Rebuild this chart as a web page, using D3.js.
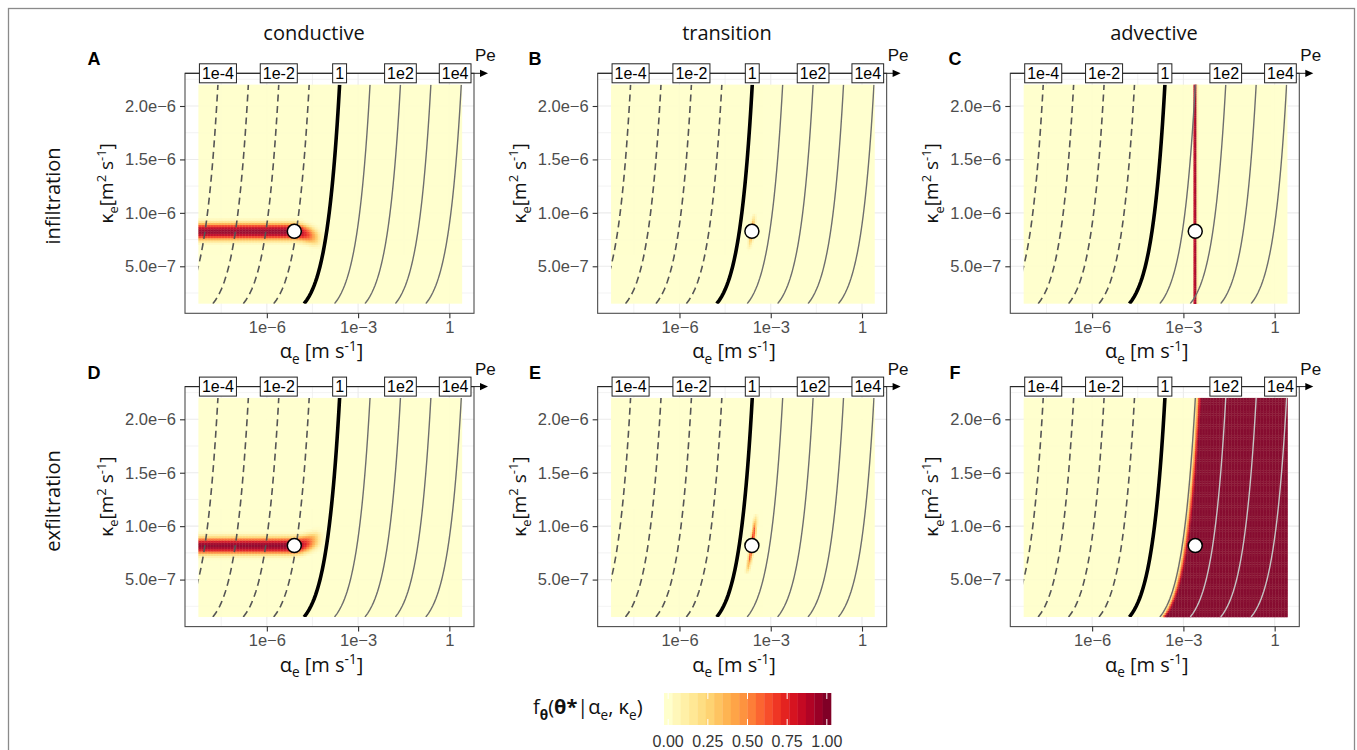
<!DOCTYPE html>
<html lang="en">
<head>
<meta charset="UTF-8" />
<title>Pe grid</title>
<script src="https://cdn.jsdelivr.net/npm/d3@7"></script>
<style>
  body { margin: 0; background: #fff; }
  text { font-family: "Liberation Sans", Arial, sans-serif; }
  .humanist { font-family: "Open Sans", "DejaVu Sans", sans-serif; }
</style>
</head>
<body>
<svg id="chart" width="1357" height="750"></svg>
<script>
const columns = ["conductive", "transition", "advective"];
const rows = ["infiltration", "exfiltration"];
const letters = [["A", "B", "C"], ["D", "E", "F"]];

const xTicks = [1e-6, 1e-3, 1];
const xTickLabels = ["1e\u22126", "1e\u22123", "1"];
const yTicks = [5e-7, 1e-6, 1.5e-6, 2e-6];
const yTickLabels = ["5.0e\u22127", "1.0e\u22126", "1.5e\u22126", "2.0e\u22126"];
const xMinor = [10 ** -7.5, 10 ** -4.5, 10 ** -1.5];
const yMinor = [2.5e-7, 7.5e-7, 1.25e-6, 1.75e-6, 2.25e-6];

const alphaLimits = [10 ** -8.69, 10 ** 0.81];
const kappaLimits = [6e-8, 2.306e-6];
const alphaGrid = [10 ** -8.25, 10 ** 0.42];
const kappaGrid = [1.5e-7, 2.2e-6];

const peValues = [1e-4, 1e-3, 1e-2, 1e-1, 1, 1e1, 1e2, 1e3, 1e4];
const peLabels = ["1e-4", "1e-2", "1", "1e2", "1e4"];
const peLabelValues = [1e-4, 1e-2, 1, 1e2, 1e4];
const depth = 10 ** -2.05; // Pe = alpha * depth / kappa

const trueAlpha = [8e-6, 2.4e-4, 2.45e-3];
const trueKappa = [8.27e-7, 8.18e-7];

// density profiles (kappa offsets in 1e-6, alpha offsets in decades)
const bandAcrossK = [-0.13, -0.11, -0.08, -0.06, -0.04, -0.02, 0, 0.02, 0.04, 0.06, 0.08, 0.11, 0.13];
const bandAcrossV = [0, 0.05, 0.25, 0.55, 0.8, 0.93, 0.98, 0.93, 0.8, 0.55, 0.25, 0.05, 0];
const bandTailA = [-0.2, 0, 0.25, 0.5, 0.7, 0.85, 1.0];
const bandTailV = [1, 1, 0.9, 0.65, 0.35, 0.12, 0];
const bandTailShift = [0, 0, 0.01, 0.03, 0.05, 0.06, 0.07];
const streakAcrossA = [-0.1, -0.05, 0, 0.05, 0.1];
const streakAcrossV = [0, 0.4, 1, 0.4, 0];
const streakAlongK = [
  [-0.18, -0.13, -0.08, -0.04, 0, 0.04, 0.08, 0.12, 0.17],
  [-0.27, -0.2, -0.12, -0.05, 0, 0.05, 0.12, 0.2, 0.3]
];
const streakAlongV = [
  [0, 0.15, 0.4, 0.65, 0.8, 0.65, 0.45, 0.22, 0],
  [0, 0.35, 0.65, 0.85, 0.9, 0.95, 0.8, 0.5, 0]
];
const lineAcrossA = [-0.07, -0.035, 0, 0.035, 0.07];
const lineAcrossV = [0, 0.85, 1, 0.85, 0];
const stepLogPe = [0.95, 1.05, 1.1, 1.15, 1.2];
const stepV = [0, 0.2, 0.55, 0.85, 1];

const W = 289, H = 240;
const colX0 = [185, 597.65, 1010.3];
const rowY0 = [73.3, 386.6];
const titleX = [314, 727, 1154];
const letterX = [94, 535, 955];

const svg = d3.select("#chart");
const color = d3.scaleSequential(d3.interpolateYlOrRd).domain([0, 1]);
const x = d3.scaleLog().domain(alphaLimits).range([0, W]);
const y = d3.scaleLinear().domain(kappaLimits).range([H, 0]);
const lg = Math.log10;

const pw = (a, b) => d3.scaleLinear().domain(a).range(b).clamp(true);
const bandAcross = pw(bandAcrossK, bandAcrossV);
const bandTail = pw(bandTailA, bandTailV);
const bandShift = pw(bandTailA, bandTailShift);
const streakAcross = pw(streakAcrossA, streakAcrossV);
const streakAlong = [pw(streakAlongK[0], streakAlongV[0]), pw(streakAlongK[1], streakAlongV[1])];
const lineAcross = pw(lineAcrossA, lineAcrossV);
const step = pw(stepLogPe, stepV);

const density = (r, c, a, k) => {
  if (c === 0) {
    const la = lg(a) - lg(trueAlpha[0]);
    const shift = (r === 0 ? -1 : 1) * bandShift(la);
    return bandTail(la) * bandAcross((k - trueKappa[r]) / 1e-6 - shift);
  }
  if (c === 1) {
    const ac = (trueAlpha[1] * k) / trueKappa[r];
    return streakAcross(lg(a) - lg(ac)) * streakAlong[r]((k - trueKappa[r]) / 1e-6);
  }
  if (r === 0) return lineAcross(lg(a) - lg(trueAlpha[2]));
  return step(lg((a * depth) / k));
};

// richtext helper
const rich = (sel, parts, size) => {
  let off = 0;
  parts.forEach((p) => {
    let target = 0;
    if (p.sub) target = 0.28 * size;
    if (p.sup) target = -0.38 * size;
    const t = sel.append("tspan").text(p.t)
      .attr("dy", target - off)
      .attr("font-size", p.sub || p.sup ? size * 0.68 : size);
    if (p.bold) t.attr("font-weight", "bold");
    off = target;
  });
};

// outer frame
svg.append("rect").attr("x", 8.5).attr("y", 8.5).attr("width", 1346).attr("height", 800)
  .attr("fill", "none").attr("stroke", "#8a8a8a").attr("stroke-width", 1.3);

columns.forEach((name, c) => {
  svg.append("text").attr("class", "humanist").attr("x", titleX[c]).attr("y", 40)
    .attr("text-anchor", "middle").attr("font-size", 20).attr("fill", "#111").text(name);
});
rows.forEach((name, r) => {
  svg.append("text").attr("class", "humanist")
    .attr("transform", `translate(60,${196 + r * 305}) rotate(-90)`)
    .attr("text-anchor", "middle").attr("font-size", 20).attr("fill", "#111").text(name);
});

const nA = 174, nK = 100;
const la0 = lg(alphaGrid[0]), la1 = lg(alphaGrid[1]);
const dLa = (la1 - la0) / nA;
const dK = (kappaGrid[1] - kappaGrid[0]) / nK;
const ks = d3.range(0, 61).map((i) => kappaGrid[0] + (i / 60) * (kappaGrid[1] - kappaGrid[0]));

rows.forEach((rowName, r) => {
  columns.forEach((colName, c) => {
    const g = svg.append("g").attr("transform", `translate(${colX0[c]},${rowY0[r]})`);
    const id = `clip${r}${c}`;
    g.append("clipPath").attr("id", id).append("rect")
      .attr("x", x(alphaGrid[0])).attr("y", y(kappaGrid[1]))
      .attr("width", x(alphaGrid[1]) - x(alphaGrid[0]))
      .attr("height", y(kappaGrid[0]) - y(kappaGrid[1]));

    g.append("rect").attr("width", W).attr("height", H).attr("fill", "#fff");
    // grid
    const grid = g.append("g").attr("stroke", "#ebebeb");
    xMinor.forEach((v) => grid.append("line").attr("x1", x(v)).attr("x2", x(v)).attr("y1", 0).attr("y2", H).attr("stroke-width", 0.6));
    yMinor.forEach((v) => grid.append("line").attr("y1", y(v)).attr("y2", y(v)).attr("x1", 0).attr("x2", W).attr("stroke-width", 0.6));
    xTicks.forEach((v) => grid.append("line").attr("x1", x(v)).attr("x2", x(v)).attr("y1", 0).attr("y2", H).attr("stroke-width", 1.1));
    yTicks.forEach((v) => grid.append("line").attr("y1", y(v)).attr("y2", y(v)).attr("x1", 0).attr("x2", W).attr("stroke-width", 1.1));

    // raster
    const cells = [];
    for (let i = 0; i < nA; i++) {
      for (let j = 0; j < nK; j++) {
        const lo = la0 + i * dLa, hi = lo + dLa;
        const k0 = kappaGrid[0] + j * dK, k1 = k0 + dK;
        const v = density(r, c, 10 ** ((lo + hi) / 2), (k0 + k1) / 2);
        if (v > 0.01) cells.push({ a0: 10 ** lo, a1: 10 ** hi, k0, k1, v });
      }
    }
    const raster = g.append("g").attr("opacity", 0.95);
    raster.append("rect")
      .attr("x", x(alphaGrid[0])).attr("y", y(kappaGrid[1]))
      .attr("width", x(alphaGrid[1]) - x(alphaGrid[0]))
      .attr("height", y(kappaGrid[0]) - y(kappaGrid[1]))
      .attr("fill", color(0));
    raster.selectAll("rect.cell").data(cells).join("rect").attr("class", "cell")
      .attr("x", (d) => x(d.a0)).attr("y", (d) => y(d.k1))
      .attr("width", (d) => x(d.a1) - x(d.a0) + 0.35).attr("height", (d) => y(d.k0) - y(d.k1) + 0.3)
      .attr("fill", (d) => color(d.v));

    // Pe isolines
    const line = d3.line().x((d) => x(d.a)).y((d) => y(d.k));
    const iso = g.append("g").attr("clip-path", `url(#${id})`).attr("fill", "none");
    peValues.forEach((pe) => {
      const pts = ks.map((k) => ({ k, a: (pe * k) / depth }));
      const p = iso.append("path").attr("d", line(pts));
      if (pe < 1) p.attr("stroke", "#555").attr("stroke-width", 1.6).attr("stroke-dasharray", "7,4.5");
      else if (pe === 1) p.attr("stroke", "#000").attr("stroke-width", 3.6);
      else {
        const under = d3.mean(pts, (d) => density(r, c, d.a, d.k));
        p.attr("stroke", under > 0.5 ? "#c4c4c4" : "#6e6e6e").attr("stroke-width", 1.4);
      }
    });

    // true value
    g.append("circle").attr("cx", x(trueAlpha[c])).attr("cy", y(trueKappa[r])).attr("r", 7)
      .attr("fill", "#fff").attr("stroke", "#000").attr("stroke-width", 1.5);

    // border
    g.append("rect").attr("width", W).attr("height", H).attr("fill", "none")
      .attr("stroke", "#4d4d4d").attr("stroke-width", 1.1);

    // axes
    const ax = g.append("g").attr("transform", `translate(0,${H})`)
      .call(d3.axisBottom(x).tickValues(xTicks).tickFormat((d, i) => xTickLabels[i]).tickSize(5).tickPadding(3));
    const ay = g.append("g")
      .call(d3.axisLeft(y).tickValues(yTicks).tickFormat((d, i) => yTickLabels[i]).tickSize(5).tickPadding(4));
    [ax, ay].forEach((a) => {
      a.select(".domain").remove();
      a.selectAll("line").attr("stroke", "#333").attr("stroke-width", 1.1);
      a.selectAll("text").attr("font-size", 16.5).attr("fill", "#4d4d4d")
        .attr("font-family", '"Liberation Sans", Arial, sans-serif');
    });

    // axis titles
    const xt = g.append("text").attr("class", "humanist").attr("x", W / 2 - 8).attr("y", H + 45)
      .attr("text-anchor", "middle").attr("fill", "#111");
    rich(xt, [{ t: "\u03b1" }, { t: "e", sub: true }, { t: " [m s" }, { t: "-1", sup: true }, { t: "]" }], 20);
    const yt = g.append("text").attr("class", "humanist")
      .attr("transform", `translate(-72,${H / 2 - 10}) rotate(-90)`)
      .attr("text-anchor", "middle").attr("fill", "#111");
    rich(yt, [{ t: "\u03ba" }, { t: "e", sub: true }, { t: "[m" }, { t: "2", sup: true }, { t: " s" }, { t: "-1", sup: true }, { t: "]" }], 19);

    // Pe axis
    const tip = W + 14;
    g.append("line").attr("x1", 0).attr("x2", tip - 5).attr("y1", 0).attr("y2", 0)
      .attr("stroke", "#222").attr("stroke-width", 1);
    g.append("path").attr("d", `M${tip},0L${tip - 8},-3.6L${tip - 8},3.6Z`).attr("fill", "#000");
    g.append("text").attr("x", W + 1).attr("y", -12).attr("font-size", 17).attr("fill", "#111").text("Pe");

    peLabelValues.forEach((pe, i) => {
      const lab = g.append("g");
      const txt = lab.append("text").attr("font-size", 16).attr("fill", "#000")
        .attr("text-anchor", "middle").attr("dy", "0.36em").text(peLabels[i]);
      const bw = txt.node().getComputedTextLength() + 5;
      let cx = x((pe * kappaGrid[1]) / depth);
      cx = Math.min(cx, W - 3 - bw / 2);
      lab.attr("transform", `translate(${cx},0)`);
      lab.insert("rect", "text").attr("x", -bw / 2).attr("y", -9.5).attr("width", bw).attr("height", 19)
        .attr("fill", "#fff").attr("stroke", "#222").attr("stroke-width", 1);
    });

    svg.append("text").attr("x", letterX[c]).attr("y", rowY0[r] - 8).attr("text-anchor", "middle")
      .attr("font-size", 18).attr("font-weight", "bold").attr("fill", "#000").text(letters[r][c]);
  });
});

// legend
const nbin = 20, barX = 664, barW = 167, barY = 693, barH = 32;
const bins = d3.range(nbin).map((i) => i / (nbin - 1));
const lx = d3.scaleLinear().domain([0, 1]).range([barX + barW * 0.5 / nbin, barX + barW * (nbin - 0.5) / nbin]);
svg.append("g").selectAll("rect").data(bins).join("rect")
  .attr("x", (d, i) => barX + (i * barW) / nbin).attr("y", barY)
  .attr("width", barW / nbin + 0.3).attr("height", barH).attr("fill", (d) => color(d));
const legendTicks = [0, 0.25, 0.5, 0.75, 1];
const legendLabels = ["0.00", "0.25", "0.50", "0.75", "1.00"];
legendTicks.forEach((v, i) => {
  svg.append("line").attr("x1", lx(v)).attr("x2", lx(v)).attr("y1", barY).attr("y2", barY + 6).attr("stroke", "#fff");
  svg.append("line").attr("x1", lx(v)).attr("x2", lx(v)).attr("y1", barY + barH - 6).attr("y2", barY + barH).attr("stroke", "#fff");
  svg.append("text").attr("x", lx(v)).attr("y", 747).attr("text-anchor", "middle")
    .attr("font-size", 16).attr("fill", "#333").text(legendLabels[i]);
});
const lt = svg.append("text").attr("class", "humanist").attr("x", 533).attr("y", 714).attr("fill", "#111");
rich(lt, [{ t: "f" }, { t: "\u03b8", sub: true, bold: true }, { t: "(" }, { t: "\u03b8*", bold: true },
  { t: "|\u03b1" }, { t: "e", sub: true }, { t: ", \u03ba" }, { t: "e", sub: true }, { t: ")" }], 20);
</script>
</body>
</html>
